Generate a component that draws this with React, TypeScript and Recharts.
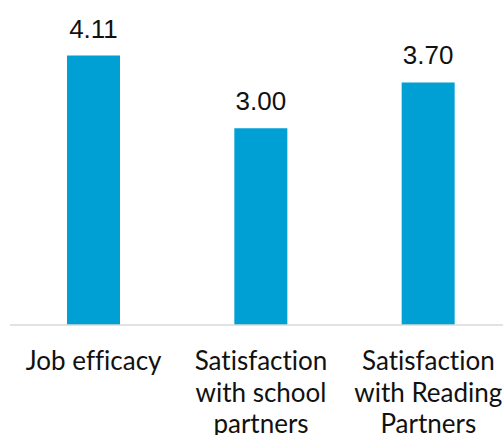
import { BarChart, Bar, XAxis, YAxis, LabelList } from 'recharts';

const categories = ['Job efficacy', 'Satisfaction with school partners', 'Satisfaction with Reading Partners'];
const scores = [4.11, 3.0, 3.7];

const data = categories.map((name, i) => ({ name, score: scores[i] }));

// greedy wrap by character count, the labels are short
function wrap(label: string, maxChars = 12) {
  const lines: string[] = [];
  let cur = '';
  label.split(' ').forEach((w) => {
    const next = cur ? cur + ' ' + w : w;
    if (next.length > maxChars && cur) {
      lines.push(cur);
      cur = w;
    } else {
      cur = next;
    }
  });
  if (cur) lines.push(cur);
  return lines;
}

function WrappedTick(props: any) {
  const { x, y, payload } = props;
  const lines = wrap(payload.value);
  return (
    <text
      x={x}
      y={y + 37}
      textAnchor="middle"
      style={{ fontFamily: 'Lato', fontSize: 26, fill: '#111', fontVariantLigatures: 'none' }}
    >
      {lines.map((l, i) => (
        <tspan key={i} x={x} dy={i === 0 ? 0 : 31.5}>
          {l}
        </tspan>
      ))}
    </text>
  );
}

export default function App() {
  return (
    <div style={{ position: 'absolute', left: 0, top: 0, width: 503, height: 435, overflow: 'hidden', background: '#fff' }}>
      <BarChart
        width={512}
        height={435}
        data={data}
        margin={{ top: 30, right: 0, left: 10, bottom: 30 }}
      >
        <XAxis
          dataKey="name"
          height={80}
          tickLine={false}
          axisLine={{ stroke: '#d9d9d9', strokeWidth: 1.5 }}
          interval={0}
          tick={<WrappedTick />}
        />
        <YAxis hide domain={[0, 4.5]} />
        <Bar dataKey="score" fill="#009fd4" barSize={53} isAnimationActive={false}>
          <LabelList
            dataKey="score"
            position="top"
            offset={18}
            formatter={(v: any) => Number(v).toFixed(2)}
            style={{ fontFamily: 'Liberation Sans, Arial', fontSize: 26, fill: '#111' }}
          />
        </Bar>
      </BarChart>
    </div>
  );
}
